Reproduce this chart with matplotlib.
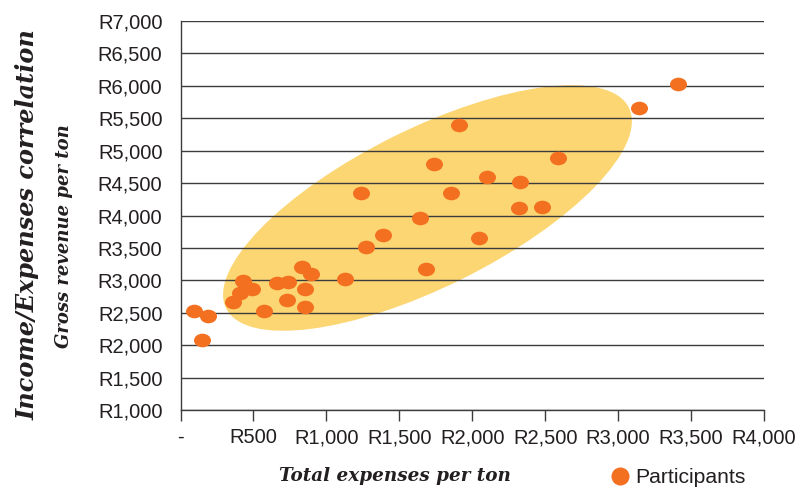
import matplotlib
matplotlib.use("Agg")
import matplotlib.pyplot as plt
import matplotlib.transforms as mtransforms
from matplotlib.patches import Ellipse
from matplotlib.path import Path
from matplotlib.lines import Line2D

# total expenses per ton vs gross revenue per ton (Rand)
expenses = [90, 185, 145, 360, 405, 425, 490, 575, 660, 740, 835, 895,
            850, 730, 850, 1130, 1270, 1385, 1640, 1685, 1235, 1735, 1855,
            1910, 2045, 2100, 2325, 2320, 2475, 2590, 3145, 3410]
revenue = [2530, 2455, 2080, 2670, 2800, 2995, 2870, 2530, 2955, 2975, 3210,
           3100, 2870, 2690, 2595, 3020, 3520, 3695, 3960, 3180, 4350, 4800,
           4345, 5395, 3650, 4590, 4510, 4120, 4135, 4880, 5660, 6035]

x_ticks = [0, 500, 1000, 1500, 2000, 2500, 3000, 3500, 4000]
x_labels = ["-", "R500", "R1,000", "R1,500", "R2,000", "R2,500", "R3,000",
            "R3,500", "R4,000"]
y_ticks = list(range(1000, 7001, 500))
y_labels = ["R{:,}".format(v) for v in y_ticks]

orange = "#F37021"
yellow = "#FCD672"
text_col = "#231F20"

plt.rcParams["font.family"] = ["Liberation Sans", "DejaVu Sans"]

fig = plt.figure(figsize=(8.07, 4.88), dpi=100)
ax = fig.add_axes([0.2237, 0.1598, 0.7230, 0.7972])

# highlight ellipse (size in inches, centred on a data point)
trans = fig.dpi_scale_trans + mtransforms.ScaledTranslation(1693, 4116, ax.transData)
ax.add_patch(Ellipse((0, 0), 4.50, 1.58, angle=26.5, transform=trans,
                     facecolor=yellow, edgecolor="none", zorder=0.2))

circ = Path.unit_circle()
oval = Path(circ.vertices * [1.25, 1.0], circ.codes)
ax.scatter(expenses, revenue, s=150, marker=oval, color=orange,
           linewidths=0, zorder=3)

ax.set_xlim(0, 4000)
ax.set_ylim(1000, 7000)
ax.set_xticks(x_ticks)
ax.set_xticklabels(x_labels)
ax.set_yticks(y_ticks)
ax.set_yticklabels(y_labels)

ax.set_axisbelow(True)
ax.yaxis.grid(True, color="#3c3c3c", linewidth=1.0)
for s in ["top", "right"]:
    ax.spines[s].set_visible(False)
for s in ["left", "bottom"]:
    ax.spines[s].set_color("#3c3c3c")
    ax.spines[s].set_linewidth(1.0)

ax.tick_params(axis="x", direction="out", length=8, width=1.0,
               color="#3c3c3c", pad=5, labelsize=14.5, labelcolor=text_col)
ax.tick_params(axis="y", length=0, pad=13, labelsize=14.5,
               labelcolor=text_col)

serif = ["DejaVu Serif"]
fig.text(0.034, 0.539, "Income/Expenses correlation", rotation=90,
         ha="center", va="center", fontsize=17.3, fontweight="bold",
         fontstyle="italic", family=serif, color=text_col)
fig.text(0.079, 0.516, "Gross revenue per ton", rotation=90,
         ha="center", va="center", fontsize=13, fontweight="bold",
         fontstyle="italic", family=serif, color=text_col)
fig.text(0.489, 0.025, "Total expenses per ton", ha="center", va="center",
         fontsize=13.2, fontweight="bold", fontstyle="italic",
         family=serif, color=text_col)

handle = Line2D([], [], marker="o", linestyle="", color=orange,
                markersize=13, markeredgewidth=0)
ax.legend([handle], ["Participants"], loc="center left",
          bbox_to_anchor=(0.7546, 0.021), bbox_transform=fig.transFigure,
          frameon=False, fontsize=15.2, handlelength=1.0,
          handletextpad=0.25, borderpad=0, borderaxespad=0,
          labelcolor=text_col)

fig.savefig("out.png", dpi=100)
